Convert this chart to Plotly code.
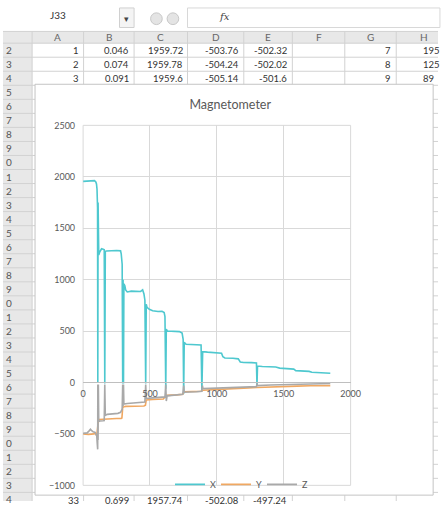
import plotly.graph_objects as go

# ---------------- data ----------------
title_text = "Magnetometer"
series_names = ["X", "Y", "Z"]

X_t = [0, 30, 60, 85, 95, 100, 104, 108, 110, 112, 114, 117, 125, 138, 150, 158, 162, 166, 175, 200,
       250, 280, 285, 292, 296, 299, 302, 305, 312, 318, 330, 360, 400, 430, 445, 455, 462, 468, 472, 478,
       495, 520, 560, 590, 606, 612, 618, 622, 630, 680, 720, 740, 748, 752, 756, 770, 820, 860, 882, 888,
       894, 930, 1000, 1035, 1045, 1060, 1120, 1160, 1175, 1200, 1260, 1296, 1300, 1304, 1340, 1400, 1440, 1470, 1540, 1575,
       1590, 1640, 1690, 1710, 1760, 1800, 1820, 1848]
X_v = [1955, 1960, 1965, 1962, 1950, 1930, 1880, 1700, 0, 1750, 0, 1240, 1270, 1300, 1295, 1290, -10, 1275, 1278, 1282,
       1283, 1280, 1250, 1150, -10, 1000, -10, 960, 940, 900, 880, 888, 890, 885, 900, 860, 800, -10, 760, 730,
       712, 698, 690, 692, 680, 640, -60, 520, 500, 498, 495, 480, 420, -110, 390, 372, 370, 370, 365, -80,
       300, 295, 292, 285, 250, 238, 236, 230, 200, 195, 193, 190, -30, 160, 155, 150, 150, 140, 135, 130,
       115, 112, 108, 100, 98, 95, 92, 90]

Y_t = [0, 40, 80, 95, 102, 106, 110, 114, 120, 160, 200, 250, 285, 290, 296, 305, 320, 400, 455, 466,
       472, 520, 600, 612, 625, 700, 745, 755, 800, 880, 895, 1000, 1100, 1200, 1300, 1400, 1500, 1600, 1700, 1848]
Y_v = [-500, -505, -500, -495, -520, -470, -400, -370, -360, -355, -352, -350, -350, -345, -245, -235, -232, -230, -228, -220,
       -170, -165, -160, -140, -125, -120, -115, -90, -88, -85, -75, -70, -62, -55, -48, -42, -38, -35, -32, -30]

Z_t = [0, 30, 45, 55, 62, 75, 90, 102, 106, 109, 110, 112, 114, 117, 125, 150, 158, 162, 166, 180,
       220, 260, 280, 285, 292, 296, 299, 302, 305, 330, 400, 455, 462, 468, 472, 520, 600, 612, 618, 622,
       628, 700, 745, 752, 756, 850, 888, 892, 896, 1000, 1100, 1200, 1296, 1300, 1304, 1400, 1500, 1600, 1700, 1848]
Z_v = [-495, -490, -470, -455, -465, -480, -485, -520, -600, -650, -20, -560, -20, -380, -375, -372, -370, -20, -320, -310,
       -305, -300, -290, -280, -260, -20, -230, -20, -210, -205, -200, -195, -190, -20, -155, -150, -145, -140, -20, -180,
       -130, -120, -115, -30, -95, -90, -85, -30, -60, -55, -50, -45, -40, -10, -30, -25, -20, -15, -12, -10]

x_ticks = [0, 500, 1000, 1500, 2000]
y_ticks = [-1000, -500, 0, 500, 1000, 1500, 2000, 2500]

# spreadsheet content around the chart
col_letters = ["A", "B", "C", "D", "E", "F", "G", "H"]
top_rows = [
    ["1", "0.046", "1959.72", "-503.76", "-502.32", "", "7", "195"],
    ["2", "0.074", "1959.78", "-504.24", "-502.02", "", "8", "125"],
    ["3", "0.091", "1959.6", "-505.14", "-501.6", "", "9", "89"],
]
bottom_row = ["33", "0.699", "1957.74", "-502.08", "-497.24", "", "", ""]
row_numbers = list(range(2, 35))
name_box = "J33"

# ---------------- layout geometry (pixels) ----------------
W, H = 448, 506
def px(x):
    return x / W
def py(y):
    return 1 - y / H

colors = {"X": "#4ec8cf", "Y": "#f0a862", "Z": "#a9a9a9"}
FONT = "Lato, Liberation Sans, sans-serif"
TXT = "#595959"

fig = go.Figure()
for name, t, v in [("X", X_t, X_v), ("Y", Y_t, Y_v), ("Z", Z_t, Z_v)]:
    fig.add_trace(go.Scatter(x=t, y=v, mode="lines", name=name,
                             line=dict(color=colors[name], width=1.6)))

x_dom = [px(82.5), px(358)]
y_dom = [py(490), py(122)]
y_range = [-1000, 2500]
x_pos = y_dom[0] + (0 - y_range[0]) / (y_range[1] - y_range[0]) * (y_dom[1] - y_dom[0])

shapes = []
annotations = []

# spreadsheet grid
col_bounds = [30, 83, 135, 190, 248, 298, 352, 405, 462]
row_h = 14.35
row_top0 = 38
header_top, header_bot = 26, 38
shapes.append(dict(type="rect", xref="paper", yref="paper", x0=0, x1=1, y0=py(header_bot), y1=py(header_top),
                   fillcolor="#e8e8e8", line=dict(width=0), layer="below"))
shapes.append(dict(type="rect", xref="paper", yref="paper", x0=0, x1=px(30), y0=0, y1=py(header_top),
                   fillcolor="#e8e8e8", line=dict(width=0), layer="below"))
for i in range(len(row_numbers) + 1):
    yy = row_top0 + i * row_h
    if yy > H:
        break
    shapes.append(dict(type="line", xref="paper", yref="paper", x0=0, x1=1, y0=py(yy), y1=py(yy),
                       line=dict(color="#d2d2d2", width=1), layer="below"))
shapes.append(dict(type="line", xref="paper", yref="paper", x0=0, x1=1, y0=py(header_top), y1=py(header_top),
                   line=dict(color="#d2d2d2", width=1), layer="below"))
for cb in col_bounds:
    shapes.append(dict(type="line", xref="paper", yref="paper", x0=px(cb), x1=px(cb), y0=0, y1=py(header_top),
                       line=dict(color="#d2d2d2", width=1), layer="below"))
# formula bar bits
shapes.append(dict(type="rect", xref="paper", yref="paper", x0=px(120), x1=px(135), y0=py(22), y1=py(2),
                   fillcolor="#f4f4f4", line=dict(color="#d0d0d0", width=1), layer="below"))
for cx in [158, 175]:
    shapes.append(dict(type="circle", xref="paper", yref="paper", x0=px(cx - 6), x1=px(cx + 6), y0=py(19), y1=py(7),
                       fillcolor="#e4e4e4", line=dict(color="#c8c8c8", width=1), layer="below"))
shapes.append(dict(type="rect", xref="paper", yref="paper", x0=px(190), x1=px(450), y0=py(22), y1=py(2),
                   fillcolor="rgba(0,0,0,0)", line=dict(color="#d8d8d8", width=1), layer="below"))

# chart box
shapes.append(dict(type="rect", xref="paper", yref="paper", x0=px(33), x1=px(443), y0=py(500), y1=py(80),
                   fillcolor="white", line=dict(color="#c4c4c4", width=1), layer="below"))
# plot area border
shapes.append(dict(type="rect", xref="x domain", yref="y domain", x0=0, x1=1, y0=0, y1=1,
                   fillcolor="rgba(0,0,0,0)", line=dict(color="#d9d9d9", width=1), layer="below"))

for i, letter in enumerate(col_letters):
    cx = (col_bounds[i] + col_bounds[i + 1]) / 2
    annotations.append(dict(x=px(cx), y=py(32), xref="paper", yref="paper", text=letter, showarrow=False,
                            xanchor="center", yanchor="middle", font=dict(family=FONT, size=10, color="#666666")))
for i, n in enumerate(row_numbers):
    cy = row_top0 + i * row_h + row_h / 2
    if cy > H + 2:
        break
    annotations.append(dict(x=px(1), y=py(cy), xref="paper", yref="paper", text=str(n)[-1], showarrow=False,
                            xanchor="left", yanchor="middle", font=dict(family=FONT, size=10, color="#555555")))
def add_row(values, cy):
    for j, val in enumerate(values):
        if not val:
            continue
        if j == 7:
            annotations.append(dict(x=px(431), y=py(cy), xref="paper", yref="paper", text=val, showarrow=False,
                                    xanchor="left", yanchor="middle", font=dict(family=FONT, size=9.5, color="#333333")))
        else:
            annotations.append(dict(x=px(col_bounds[j + 1] - 3), y=py(cy), xref="paper", yref="paper", text=val,
                                    showarrow=False, xanchor="right", yanchor="middle",
                                    font=dict(family=FONT, size=9.5, color="#333333")))
for k, rv in enumerate(top_rows):
    add_row(rv, row_top0 + k * row_h + row_h / 2)
add_row(bottom_row, 505)

annotations.append(dict(x=px(57), y=py(9), xref="paper", yref="paper", text=name_box, showarrow=False,
                        xanchor="center", yanchor="middle", font=dict(family=FONT, size=10, color="#333333")))
annotations.append(dict(x=px(127), y=py(13), xref="paper", yref="paper", text="▾", showarrow=False,
                        xanchor="center", yanchor="middle", font=dict(family=FONT, size=9, color="#444444")))
annotations.append(dict(x=px(228), y=py(11), xref="paper", yref="paper", text="<i>fx</i>", showarrow=False,
                        xanchor="center", yanchor="middle", font=dict(family="DejaVu Serif", size=10, color="#444444")))

fig.update_layout(
    width=W, height=H, autosize=False,
    margin=dict(l=0, r=0, t=0, b=0),
    paper_bgcolor="white", plot_bgcolor="rgba(0,0,0,0)",
    title=dict(text=title_text, x=px(234), y=py(101), xref="paper", yref="paper",
               xanchor="center", yanchor="middle", font=dict(family=FONT, size=12.5, color=TXT)),
    xaxis=dict(domain=x_dom, range=[0, 2000], tickvals=x_ticks, showgrid=True, gridcolor="#d9d9d9", gridwidth=1,
               zeroline=False, anchor="free", position=x_pos, showline=True, linecolor="#bfbfbf", linewidth=1,
               ticks="", ticklabelstandoff=3, tickfont=dict(family=FONT, size=9, color=TXT), fixedrange=True),
    yaxis=dict(domain=y_dom, range=y_range, tickvals=y_ticks, showgrid=True, gridcolor="#d9d9d9", gridwidth=1,
               zeroline=False, ticks="", ticklabelstandoff=7, tickfont=dict(family=FONT, size=9, color=TXT),
               fixedrange=True),
    legend=dict(orientation="h", x=px(172), y=py(489), xanchor="left", yanchor="middle",
                bgcolor="rgba(0,0,0,0)", font=dict(family=FONT, size=9, color=TXT), itemwidth=30,
                entrywidth=1, entrywidthmode="pixels", tracegroupgap=0),
    shapes=shapes,
    annotations=annotations,
    showlegend=True,
)

fig.write_html("out.html", config={"displayModeBar": False},
               post_script="document.body.style.margin='0';document.body.style.overflow='hidden';")
